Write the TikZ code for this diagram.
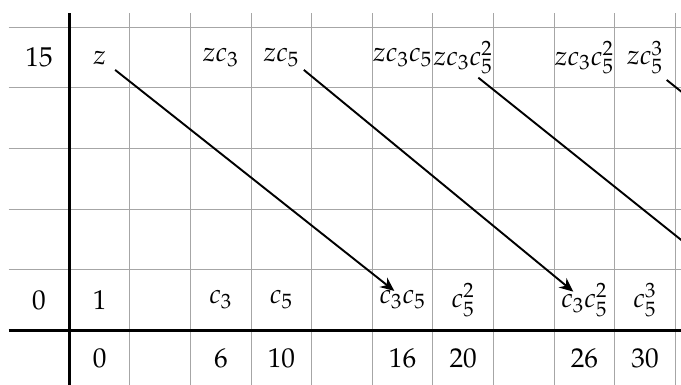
\documentclass[tikz,border=0pt]{standalone}
\usepackage[T1]{fontenc}
\usepackage{mathpazo}
\usetikzlibrary{arrows.meta}
\begin{document}
\begin{tikzpicture}[
  gridline/.style={gray!70, line width=0.5pt},
  axisline/.style={black, line width=1.4pt},
  lbl/.style={inner sep=0pt, font=\fontsize{12.8}{15}\selectfont},
  arr/.style={-{Stealth[length=2.3mm,width=2mm]}, line width=0.9pt}
]
\useasboundingbox (-1.144,-0.903) rectangle (10.094,5.45);
\begin{scope}
\clip (-1.144,-0.903) rectangle (10.094,5.45);
% grid
\foreach \y in {1,...,5} \draw[gridline] (-1,\y) -- (10.2,\y);
\foreach \x in {1,...,10} \draw[gridline] (\x,-1) -- (\x,5.23);
\draw[axisline] (-1,0) -- (10.2,0);
\draw[axisline] (0,-1) -- (0,5.23);
% row labels
\node[lbl] (r15) at (-0.5,4.5) {15};
\node[lbl] (r0) at (-0.5,0.5) {0};
% column labels
\node[lbl] (k0) at (0.5,-0.47) {0};
\node[lbl] (k6) at (2.5,-0.47) {6};
\node[lbl] (k10) at (3.5,-0.47) {10};
\node[lbl] (k16) at (5.5,-0.47) {16};
\node[lbl] (k20) at (6.5,-0.47) {20};
\node[lbl] (k26) at (8.5,-0.47) {26};
\node[lbl] (k30) at (9.5,-0.47) {30};
% bottom row
\node[lbl] (one) at (0.5,0.5) {$1$};
\node[lbl] (c3) at (2.5,0.5) {$c_3$};
\node[lbl] (c5) at (3.5,0.5) {$c_5$};
\node[lbl] (c3c5) at (5.5,0.5) {$c_3c_5$};
\node[lbl] (c5b) at (6.5,0.5) {$c_5^2$};
\node[lbl] (c3c5b) at (8.5,0.5) {$c_3c_5^2$};
\node[lbl] (c5c) at (9.5,0.5) {$c_5^3$};
\coordinate (t11) at (11.75,0.168);
\coordinate (t14) at (14.858,0.13);
% top row
\node[lbl] (z) at (0.5,4.5) {$z$};
\node[lbl] (zc3) at (2.5,4.5) {$zc_3$};
\node[lbl] (zc5) at (3.5,4.5) {$zc_5$};
\node[lbl] (zc3c5) at (5.5,4.5) {$zc_3c_5$};
\node[lbl] (zc3c5b) at (6.5,4.5) {$zc_3c_5^2$};
\node[lbl] (zc3c5c) at (8.5,4.5) {$zc_3c_5^2$};
\node[lbl] (zc5c) at (9.5,4.5) {$zc_5^3$};
% differentials
\draw[arr] ([shift={(0.256,-0.204)}]z.center) -- ([shift={(-0.137,0.149)}]c3c5.center);
\draw[arr] ([shift={(0.37,-0.204)}]zc5.center) -- ([shift={(-0.183,0.137)}]c3c5b.center);
\draw[arr] ([shift={(0.25,-0.332)}]zc3c5b.center) -- (t11);
\draw[arr] ([shift={(0.358,-0.37)}]zc5c.center) -- (t14);
\end{scope}
\end{tikzpicture}
\end{document}
